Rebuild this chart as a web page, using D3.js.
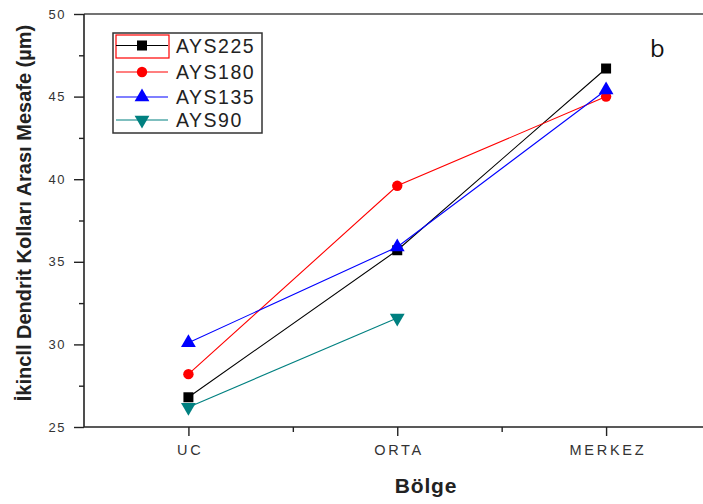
<!DOCTYPE html>
<html>
<head>
<meta charset="utf-8">
<script src="https://cdn.jsdelivr.net/npm/d3@7"></script>
<style>
  html, body { margin: 0; padding: 0; background: #fff; }
  svg { display: block; font-family: "Liberation Sans", Arial, sans-serif; }
</style>
</head>
<body>
<svg id="chart" width="703" height="504"></svg>
<script>
// Regions along the casting (x axis)
const categories = ["UC", "ORTA", "MERKEZ"];
// Secondary dendrite arm spacing (µm) per series
const seriesNames = ["AYS225", "AYS180", "AYS135", "AYS90"];
const ays225 = [26.8, 35.7, 46.7];
const ays180 = [28.2, 39.6, 45.0];
const ays135 = [30.1, 35.9, 45.4];
const ays90  = [26.2, 31.6];
const yTicks = [25, 30, 35, 40, 45, 50];

const svg = d3.select("#chart");
const plotL = 84, plotT = 14, plotB = 427, plotR = 710.5;

const x = d3.scaleLinear().domain([0.5, 3.5]).range([plotL, plotR]);
const y = d3.scaleLinear().domain([25, 50]).range([plotB, plotT]);

// frame top line
svg.append("line").attr("x1", plotL).attr("x2", 703).attr("y1", plotT).attr("y2", plotT)
  .attr("stroke", "#444").attr("stroke-width", 1.6);

// y axis
const yAxis = svg.append("g").attr("transform", `translate(${plotL},0)`)
  .call(d3.axisLeft(y).tickValues(yTicks).tickSize(10).tickPadding(8).tickFormat(d3.format("d")));
const yMinor = svg.append("g").attr("transform", `translate(${plotL},0)`)
  .call(d3.axisLeft(y).tickValues([27.5, 32.5, 37.5, 42.5, 47.5]).tickSize(5).tickFormat(""));
yMinor.select(".domain").remove();

// x axis
const xAxis = svg.append("g").attr("transform", `translate(0,${plotB})`)
  .call(d3.axisBottom(x).tickValues([1, 2, 3]).tickSize(9).tickPadding(9)
    .tickFormat(d => categories[d - 1]));
const xMinor = svg.append("g").attr("transform", `translate(0,${plotB})`)
  .call(d3.axisBottom(x).tickValues([1.5, 2.5]).tickSize(5).tickFormat(""));
xMinor.select(".domain").remove();

[yAxis, xAxis, yMinor, xMinor].forEach(g => {
  g.selectAll(".domain").attr("stroke", "#222").attr("stroke-width", 1.6);
  g.selectAll(".tick line").attr("stroke", "#222").attr("stroke-width", 1.4);
});
yAxis.select(".domain").attr("d", `M0,${plotB}V${plotT}`);
xAxis.select(".domain").attr("d", `M${plotL},0H703`);
yAxis.selectAll("text").attr("font-size", 13).attr("fill", "#333").attr("letter-spacing", 1.5);
xAxis.selectAll("text").attr("font-size", 14.5).attr("fill", "#333").attr("letter-spacing", 2.7)
  .attr("dx", 1.3);

// axis titles
svg.append("text").attr("x", 426).attr("y", 493).attr("text-anchor", "middle")
  .attr("font-size", 21).attr("font-weight", "bold").attr("fill", "#222")
  .attr("letter-spacing", 0.8).text("Bölge");
svg.append("text").attr("transform", "translate(31,213) rotate(-90)").attr("text-anchor", "middle")
  .attr("font-size", 20).attr("font-weight", "bold").attr("fill", "#222")
  .text("İkincll Dendrit Kolları Arası Mesafe (µm)");

// series
const series = [
  { name: seriesNames[0], values: ays225, color: "#000000", shape: d3.symbolSquare, size: 100, rot: 0 },
  { name: seriesNames[1], values: ays180, color: "#ff0000", shape: d3.symbolCircle, size: 85, rot: 0 },
  { name: seriesNames[2], values: ays135, color: "#0000ff", shape: d3.symbolTriangle, size: 95, rot: 0 },
  { name: seriesNames[3], values: ays90,  color: "#008080", shape: d3.symbolTriangle, size: 95, rot: 180 }
];

const line = d3.line().x((d, i) => x(i + 1)).y(d => y(d));

series.forEach(s => {
  svg.append("path").datum(s.values).attr("d", line)
    .attr("fill", "none").attr("stroke", s.color).attr("stroke-width", 1.1);
  svg.selectAll(null).data(s.values).enter().append("path")
    .attr("d", d3.symbol().type(s.shape).size(s.size))
    .attr("transform", (d, i) => `translate(${x(i + 1)},${y(d)}) rotate(${s.rot})`)
    .attr("fill", s.color);
});

// legend
const lg = svg.append("g");
lg.append("rect").attr("x", 113).attr("y", 33).attr("width", 149).attr("height", 100)
  .attr("fill", "none").attr("stroke", "#333").attr("stroke-width", 1.5);
lg.append("rect").attr("x", 116).attr("y", 35).attr("width", 53).attr("height", 23)
  .attr("fill", "none").attr("stroke", "#ff0000").attr("stroke-width", 1.2);
const rowsY = [45.5, 72, 97, 120];
series.forEach((s, i) => {
  const ry = rowsY[i];
  lg.append("line").attr("x1", 116).attr("x2", 168).attr("y1", ry).attr("y2", ry)
    .attr("stroke", s.color).attr("stroke-width", 1.1);
  lg.append("path").attr("d", d3.symbol().type(s.shape).size(s.size))
    .attr("transform", `translate(142,${ry}) rotate(${s.rot})`).attr("fill", s.color);
  lg.append("text").attr("x", 176).attr("y", ry + 7).attr("font-size", 19.5)
    .attr("letter-spacing", 1.5).attr("fill", "#222").text(s.name);
});

// panel letter
svg.append("text").attr("x", 650).attr("y", 57).attr("font-size", 24)
  .attr("font-family", "'Open Sans', sans-serif").attr("fill", "#111").text("b");
</script>
</body>
</html>
